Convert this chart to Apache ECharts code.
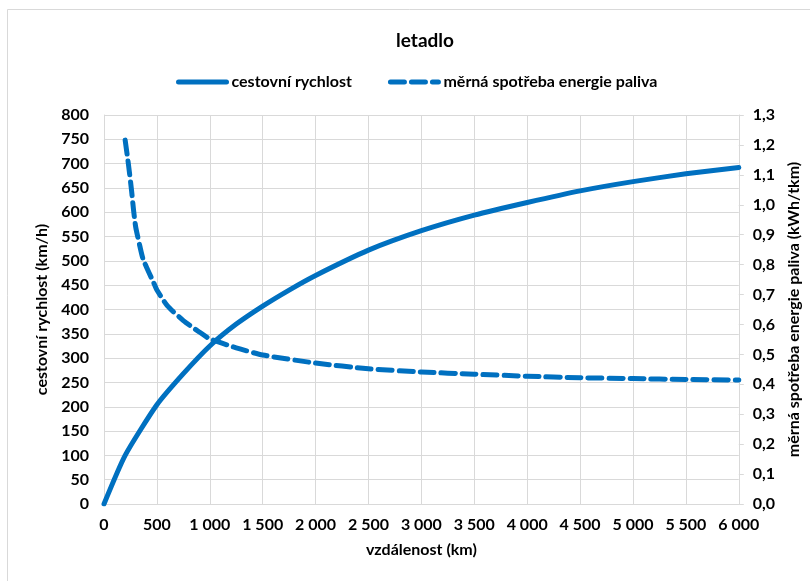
<!DOCTYPE html>
<html>
<head>
<meta charset="utf-8">
<title>letadlo</title>
<script src="https://cdn.jsdelivr.net/npm/echarts@6/dist/echarts.min.js"></script>
<style>
  html, body { margin: 0; padding: 0; background: #ffffff; }
  #chart { width: 810px; height: 581px; }
</style>
</head>
<body>
<div id="chart"></div>
<script>
// cestovní rychlost (km/h) podle vzdálenosti (km)
const speedDistance = [0, 200, 500, 750, 1000, 1250, 1500, 1750, 2000, 2500, 3000, 3500, 4000, 4500, 5000, 5500, 6000];
const speedValues   = [0, 100, 204, 268, 325, 370, 407, 440, 470, 522, 562, 594, 620, 644, 663, 679, 692];

// měrná spotřeba energie paliva (kWh/tkm) podle vzdálenosti (km)
const fuelDistance = [200, 230, 260, 280, 300, 340, 370, 480, 500, 600, 750, 900, 1000, 1250, 1500, 2000, 2500, 3000, 3500, 4000, 4500, 5000, 5500, 6000];
const fuelValues   = [1.216, 1.138, 1.049, 0.98, 0.925, 0.86, 0.818, 0.731, 0.715, 0.662, 0.613, 0.575, 0.552, 0.522, 0.498, 0.471, 0.452, 0.441, 0.434, 0.427, 0.422, 0.419, 0.416, 0.414];

const seriesNames = ['cestovní rychlost', 'měrná spotřeba energie paliva'];
const axisNames = {
  x: 'vzdálenost (km)',
  left: 'cestovní rychlost (km/h)',
  right: 'měrná spotřeba energie paliva (kWh/tkm)'
};
const chartTitle = 'letadlo';

const FONT = 'Lato, "Liberation Sans", Arial, sans-serif';
const BLUE = '#0070C0';
const GRID = '#d9d9d9';
const TEXT = '#000000';

const zip = (xs, ys) => xs.map((x, i) => [x, ys[i]]);
const thousands = v => String(v).replace(/\B(?=(\d{3})+(?!\d))/g, ' ');

const chart = echarts.init(document.getElementById('chart'), null, { renderer: 'canvas' });

chart.setOption({
  backgroundColor: '#ffffff',
  animation: false,
  graphic: [{
    type: 'rect',
    shape: { x: 7.5, y: 9.5, width: 810, height: 580 },
    style: { fill: 'none', stroke: GRID, lineWidth: 1 },
    silent: true,
    z: -1
  }],
  title: {
    text: chartTitle,
    left: 420,
    top: 26,
    textAlign: 'center',
    textStyle: { fontFamily: FONT, fontWeight: 'bold', fontSize: 19, color: TEXT }
  },
  legend: {
    left: 171,
    top: 69,
    itemWidth: 48,
    itemHeight: 14,
    itemGap: 36,
    data: seriesNames,
    itemStyle: { opacity: 0 },
    lineStyle: { width: 5, cap: 'round' },
    textStyle: { fontFamily: FONT, fontWeight: 'bold', fontSize: 16, color: TEXT }
  },
  grid: { left: 104, right: 70, top: 115, bottom: 77, containLabel: false },
  xAxis: {
    type: 'value',
    min: 0,
    max: 6000,
    interval: 500,
    name: axisNames.x,
    nameLocation: 'middle',
    nameGap: 38,
    nameTextStyle: { fontFamily: FONT, fontWeight: 'bold', fontSize: 16, color: TEXT },
    axisLine: { show: true, lineStyle: { color: GRID, width: 1 } },
    axisTick: { show: false },
    axisLabel: {
      margin: 13,
      fontFamily: FONT, fontWeight: 'bold', fontSize: 16, color: TEXT,
      formatter: v => thousands(v)
    },
    splitLine: { show: true, lineStyle: { color: GRID, width: 1 } }
  },
  yAxis: [{
    type: 'value',
    position: 'left',
    min: 0,
    max: 800,
    interval: 50,
    name: axisNames.left,
    nameLocation: 'middle',
    nameRotate: 90,
    nameGap: 52,
    nameTextStyle: { fontFamily: FONT, fontWeight: 'bold', fontSize: 16, color: TEXT },
    axisLine: { show: true, lineStyle: { color: GRID, width: 1 } },
    axisTick: { show: false },
    axisLabel: { margin: 15, fontFamily: FONT, fontWeight: 'bold', fontSize: 16, color: TEXT },
    splitLine: { show: true, lineStyle: { color: GRID, width: 1 } }
  }, {
    type: 'value',
    position: 'right',
    min: 0,
    max: 1.3,
    interval: 0.1,
    name: axisNames.right,
    nameLocation: 'middle',
    nameRotate: 90,
    nameGap: 46,
    nameTextStyle: { fontFamily: FONT, fontWeight: 'bold', fontSize: 16, color: TEXT },
    axisLine: { show: true, lineStyle: { color: GRID, width: 1 } },
    axisTick: { show: true, length: 5, inside: false, lineStyle: { color: GRID } },
    axisLabel: {
      margin: 14,
      fontFamily: FONT, fontWeight: 'bold', fontSize: 16, color: TEXT,
      formatter: v => v.toFixed(1).replace('.', ',')
    },
    splitLine: { show: false }
  }],
  series: [{
    name: seriesNames[0],
    type: 'line',
    yAxisIndex: 0,
    data: zip(speedDistance, speedValues),
    showSymbol: false,
    symbol: 'none',
    smooth: 0.2,
    lineStyle: { color: BLUE, width: 5, cap: 'round', join: 'round' },
    itemStyle: { color: BLUE }
  }, {
    name: seriesNames[1],
    type: 'line',
    yAxisIndex: 1,
    data: zip(fuelDistance, fuelValues),
    showSymbol: false,
    symbol: 'none',
    smooth: 0.2,
    lineStyle: { color: BLUE, width: 5, type: [14, 7], cap: 'round', join: 'round' },
    itemStyle: { color: BLUE }
  }]
});
</script>
</body>
</html>
